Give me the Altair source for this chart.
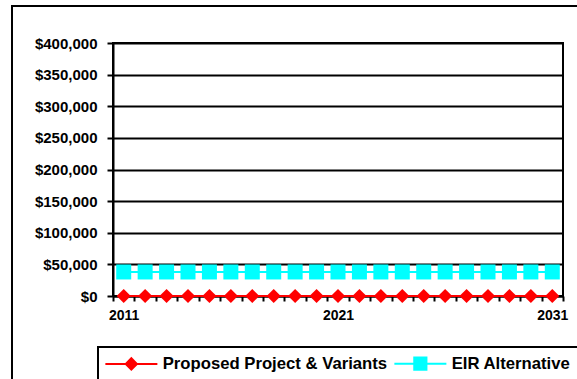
import altair as alt
import pandas as pd

years = list(range(2011, 2032))
proposed = [0] * 21
eir_alt = [38000] * 21
series_names = ["Proposed Project & Variants", "EIR Alternative"]
series_colors = ["#FF0000", "#00FFFF"]
series_shapes = ["diamond", "square"]
series_sizes = [200, 225]
y_ticks = [0, 50000, 100000, 150000, 200000, 250000, 300000, 350000, 400000]
x_label_years = ["2011", "2021", "2031"]

rows = []
for y, v in zip(years, proposed):
    rows.append({"year": y, "value": v, "series": series_names[0]})
for y, v in zip(years, eir_alt):
    rows.append({"year": y, "value": v, "series": series_names[1]})
df = pd.DataFrame(rows)

FONT = "Liberation Sans"

diamond_path = "M-1.14,0H6.29M2.57,-0.8L3.37,0L2.57,0.8L1.77,0Z"
square_path = "M-1.14,0H6.29M1.7,-0.87H3.44V0.87H1.7Z"

legend = alt.Legend(
    title=None,
    orient="none",
    legendX=-8,
    legendY=312,
    direction="horizontal",
    labelFont=FONT,
    labelFontSize=16.7,
    labelFontWeight="bold",
    labelColor="black",
    labelOffset=41,
    labelLimit=500,
    columnPadding=2,
    symbolSize=196,
    padding=0,
    symbolType=alt.ExprRef(expr=f"datum.value === '{series_names[0]}' ? '{diamond_path}' : '{square_path}'"),
    symbolStrokeColor=alt.ExprRef(expr="scale('color', datum.value)"),
    symbolFillColor=alt.ExprRef(expr="scale('color', datum.value)"),
    symbolStrokeWidth=2,
    symbolOpacity=1,
)

x_enc = alt.X(
    "year:O",
    bandPosition=0.5,
    scale=alt.Scale(type="band", paddingInner=0, paddingOuter=0),
    axis=alt.Axis(
        title=None,
        labelAngle=0,
        tickBand="extent",
        tickSize=5,
        tickWidth=2,
        tickColor="black",
        domainColor="black",
        domainWidth=2,
        grid=False,
        labelFont=FONT,
        labelFontSize=14,
        labelFontWeight="bold",
        labelColor="black",
        labelPadding=7,
        labelExpr=f"indexof({x_label_years}, datum.label) >= 0 ? datum.label : ''",
    ),
)
y_enc = alt.Y(
    "value:Q",
    scale=alt.Scale(domain=[0, 400000], nice=False),
    axis=alt.Axis(
        title=None,
        values=y_ticks,
        format="$,.0f",
        tickSize=6,
        tickWidth=2,
        tickColor="black",
        domainColor="black",
        domainWidth=2,
        gridColor="black",
        gridWidth=2,
        labelFont=FONT,
        labelFontSize=15,
        labelFontWeight="bold",
        labelColor="black",
        labelPadding=10,
    ),
)
color_scale = alt.Scale(domain=series_names, range=series_colors)

base = alt.Chart(df)
lines = base.mark_line(strokeWidth=2).encode(
    x=x_enc, y=y_enc, color=alt.Color("series:N", scale=color_scale, legend=legend)
)

point_layers = []
for name, col, shp, sz in zip(series_names[::-1], series_colors[::-1], series_shapes[::-1], series_sizes[::-1]):
    point_layers.append(
        base.transform_filter(alt.datum.series == name)
        .mark_point(filled=True, opacity=1, size=sz, shape=shp, color=col)
        .encode(x=x_enc, y=y_enc)
    )

deco = pd.DataFrame({"k": [0]})
outer = alt.Chart(deco).mark_rect(fillOpacity=0, stroke="black", strokeWidth=2).encode(
    x=alt.value(-101), x2=alt.value(520), y=alt.value(-37), y2=alt.value(400)
)
legbox = alt.Chart(deco).mark_rect(fillOpacity=0, stroke="black", strokeWidth=2).encode(
    x=alt.value(-15), x2=alt.value(520), y=alt.value(304), y2=alt.value(400)
)

chart = (
    alt.layer(outer, legbox, lines, *point_layers)
    .properties(
        width=450,
        height=253,
        autosize=alt.AutoSizeParams(type="none"),
        padding={"left": 113, "top": 43, "right": 14, "bottom": 83},
        background="white",
    )
    .configure_view(stroke="black", strokeWidth=2)
)

chart.save("out.html", embed_options={"renderer": "svg", "actions": False})
